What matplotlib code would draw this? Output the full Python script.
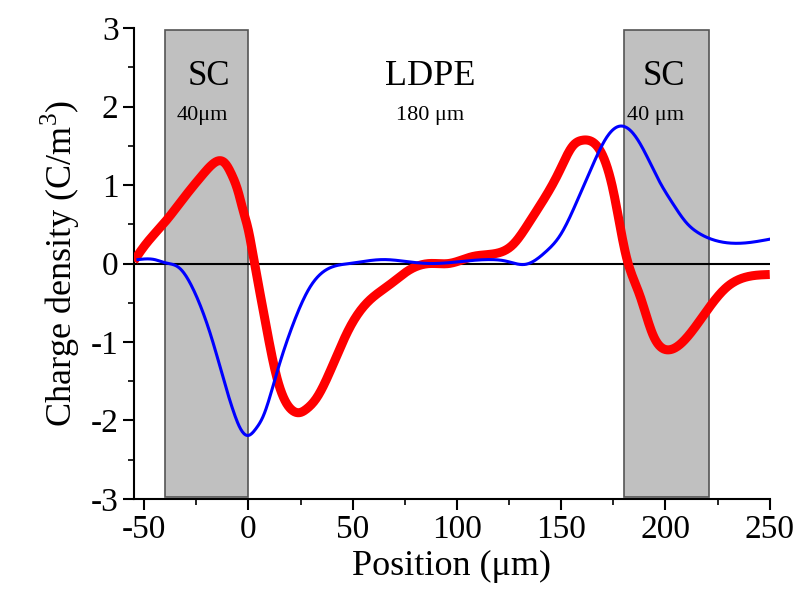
import matplotlib
matplotlib.use("Agg")
import matplotlib.pyplot as plt
from matplotlib.patches import Rectangle
from matplotlib.ticker import MultipleLocator, FuncFormatter
import numpy as np

plt.rcParams['font.family'] = ['Liberation Serif', 'DejaVu Serif']
plt.rcParams['mathtext.fontset'] = 'custom'
plt.rcParams['mathtext.rm'] = 'Liberation Serif'

red_x = [-55, -50, -40, -30, -22, -17, -14, -11, -8, -5, -2.5, 0, 2, 5, 8.5, 13.3, 18, 21, 24.5, 28, 32.5, 40.5, 48.5, 56.5,
         67.7, 77.3, 87, 96, 107.7, 119, 126.8, 135, 141, 149, 155.6, 160, 163, 168.4, 175, 181, 187.6, 194, 201, 210, 219.6,
         229, 239, 250]
red_y = [0.03, 0.22, 0.53, 0.87, 1.13, 1.27, 1.31, 1.27, 1.13, 0.92, 0.67, 0.42, 0.14, -0.3, -0.8, -1.42, -1.77, -1.87, -1.9, -1.85, -1.72, -1.29, -0.82, -0.51,
         -0.27, -0.08, 0.0, 0.0, 0.09, 0.13, 0.24, 0.54, 0.79, 1.17, 1.5, 1.57, 1.57, 1.45, 0.92, 0.11, -0.4, -0.91, -1.1, -0.95, -0.61,
         -0.31, -0.17, -0.14]

blue_x = [-53, -45, -40, -33, -27, -22, -18, -14, -10, -7.5, -3.5, 0, 3.7, 7, 13.3, 21.3, 29.3, 37.3, 48.5, 64.5, 77.3, 87, 100,
          115.6, 123.6, 133, 142.6, 149.5, 157, 165.2, 171.6, 178, 184.4, 190.8, 197.2, 203.6, 210, 216.4, 224.4, 237.2, 250]
blue_y = [0.05, 0.05, 0.01, -0.06, -0.3, -0.61, -0.92, -1.28, -1.65, -1.86, -2.12, -2.19, -2.1, -1.95, -1.42, -0.78, -0.31, -0.08, 0.0, 0.05, 0.02, 0.0, 0.02,
          0.05, 0.03, -0.01, 0.15, 0.36, 0.76, 1.26, 1.6, 1.75, 1.66, 1.38, 1.04, 0.76, 0.52, 0.38, 0.29, 0.26, 0.31]

sc_regions = [(-40, 0), (180, 221)]


def spline(xs, ys, n=800):
    """Natural cubic spline through the read-off points."""
    x = np.asarray(xs, float); y = np.asarray(ys, float)
    N = len(x); h = np.diff(x)
    A = np.zeros((N, N)); b = np.zeros(N)
    A[0, 0] = A[-1, -1] = 1
    for i in range(1, N - 1):
        A[i, i-1] = h[i-1]; A[i, i] = 2 * (h[i-1] + h[i]); A[i, i+1] = h[i]
        b[i] = 6 * ((y[i+1] - y[i]) / h[i] - (y[i] - y[i-1]) / h[i-1])
    M = np.linalg.solve(A, b)
    xx = np.linspace(x[0], x[-1], n)
    k = np.clip(np.searchsorted(x, xx) - 1, 0, N - 2)
    t1 = x[k+1] - xx; t0 = xx - x[k]; hk = h[k]
    yy = (M[k] * t1**3 + M[k+1] * t0**3) / (6 * hk) \
        + (y[k] / hk - M[k] * hk / 6) * t1 + (y[k+1] / hk - M[k+1] * hk / 6) * t0
    return xx, yy


fig = plt.figure(figsize=(8.01, 6.03), dpi=100)
ax = fig.add_axes([0.167, 0.1725, 0.794, 0.781])

for x0, x1 in sc_regions:
    ax.add_patch(Rectangle((x0, -2.97), x1 - x0, 5.94, facecolor='#c0c0c0', edgecolor='#555555', lw=1.2, zorder=1))

ax.axhline(0, color='black', lw=1.5, zorder=2)

rx, ry = spline(red_x, red_y)
ax.plot(rx, ry, color='#ff0000', lw=6.5, solid_capstyle='butt', zorder=3)
bx, by = spline(blue_x, blue_y)
ax.plot(bx, by, color='#0000ff', lw=2.2, zorder=4)

ax.text(-19, 2.38, 'SC', fontsize=25, ha='center', va='center')
ax.text(-22, 1.88, '40μm', fontsize=16, ha='center', va='center')
ax.text(87, 2.38, 'LDPE', fontsize=26, ha='center', va='center')
ax.text(87, 1.88, '180 μm', fontsize=16, ha='center', va='center')
ax.text(199, 2.38, 'SC', fontsize=25, ha='center', va='center')
ax.text(195, 1.88, '40 μm', fontsize=16, ha='center', va='center')

ax.set_xlim(-55, 250)
ax.set_ylim(-3, 3)
ax.xaxis.set_major_locator(MultipleLocator(50))
ax.xaxis.set_minor_locator(MultipleLocator(25))
ax.yaxis.set_major_locator(MultipleLocator(1))
ax.yaxis.set_minor_locator(MultipleLocator(0.5))
fmt = FuncFormatter(lambda v, p: ('%g' % v).replace('\u2212', '-'))
ax.xaxis.set_major_formatter(fmt)
ax.yaxis.set_major_formatter(fmt)
ax.tick_params(which='major', direction='out', length=8, width=1.5, labelsize=24, pad=3)
ax.tick_params(which='minor', direction='out', length=4, width=1.2)
for s in ['top', 'right']:
    ax.spines[s].set_visible(False)
for s in ['left', 'bottom']:
    ax.spines[s].set_linewidth(1.5)

ax.set_xlabel('Position (μm)', fontsize=26, labelpad=4)
ax.set_ylabel('Charge density (C/m$^3$)', fontsize=26, labelpad=6)

fig.savefig('out.png', dpi=100)
